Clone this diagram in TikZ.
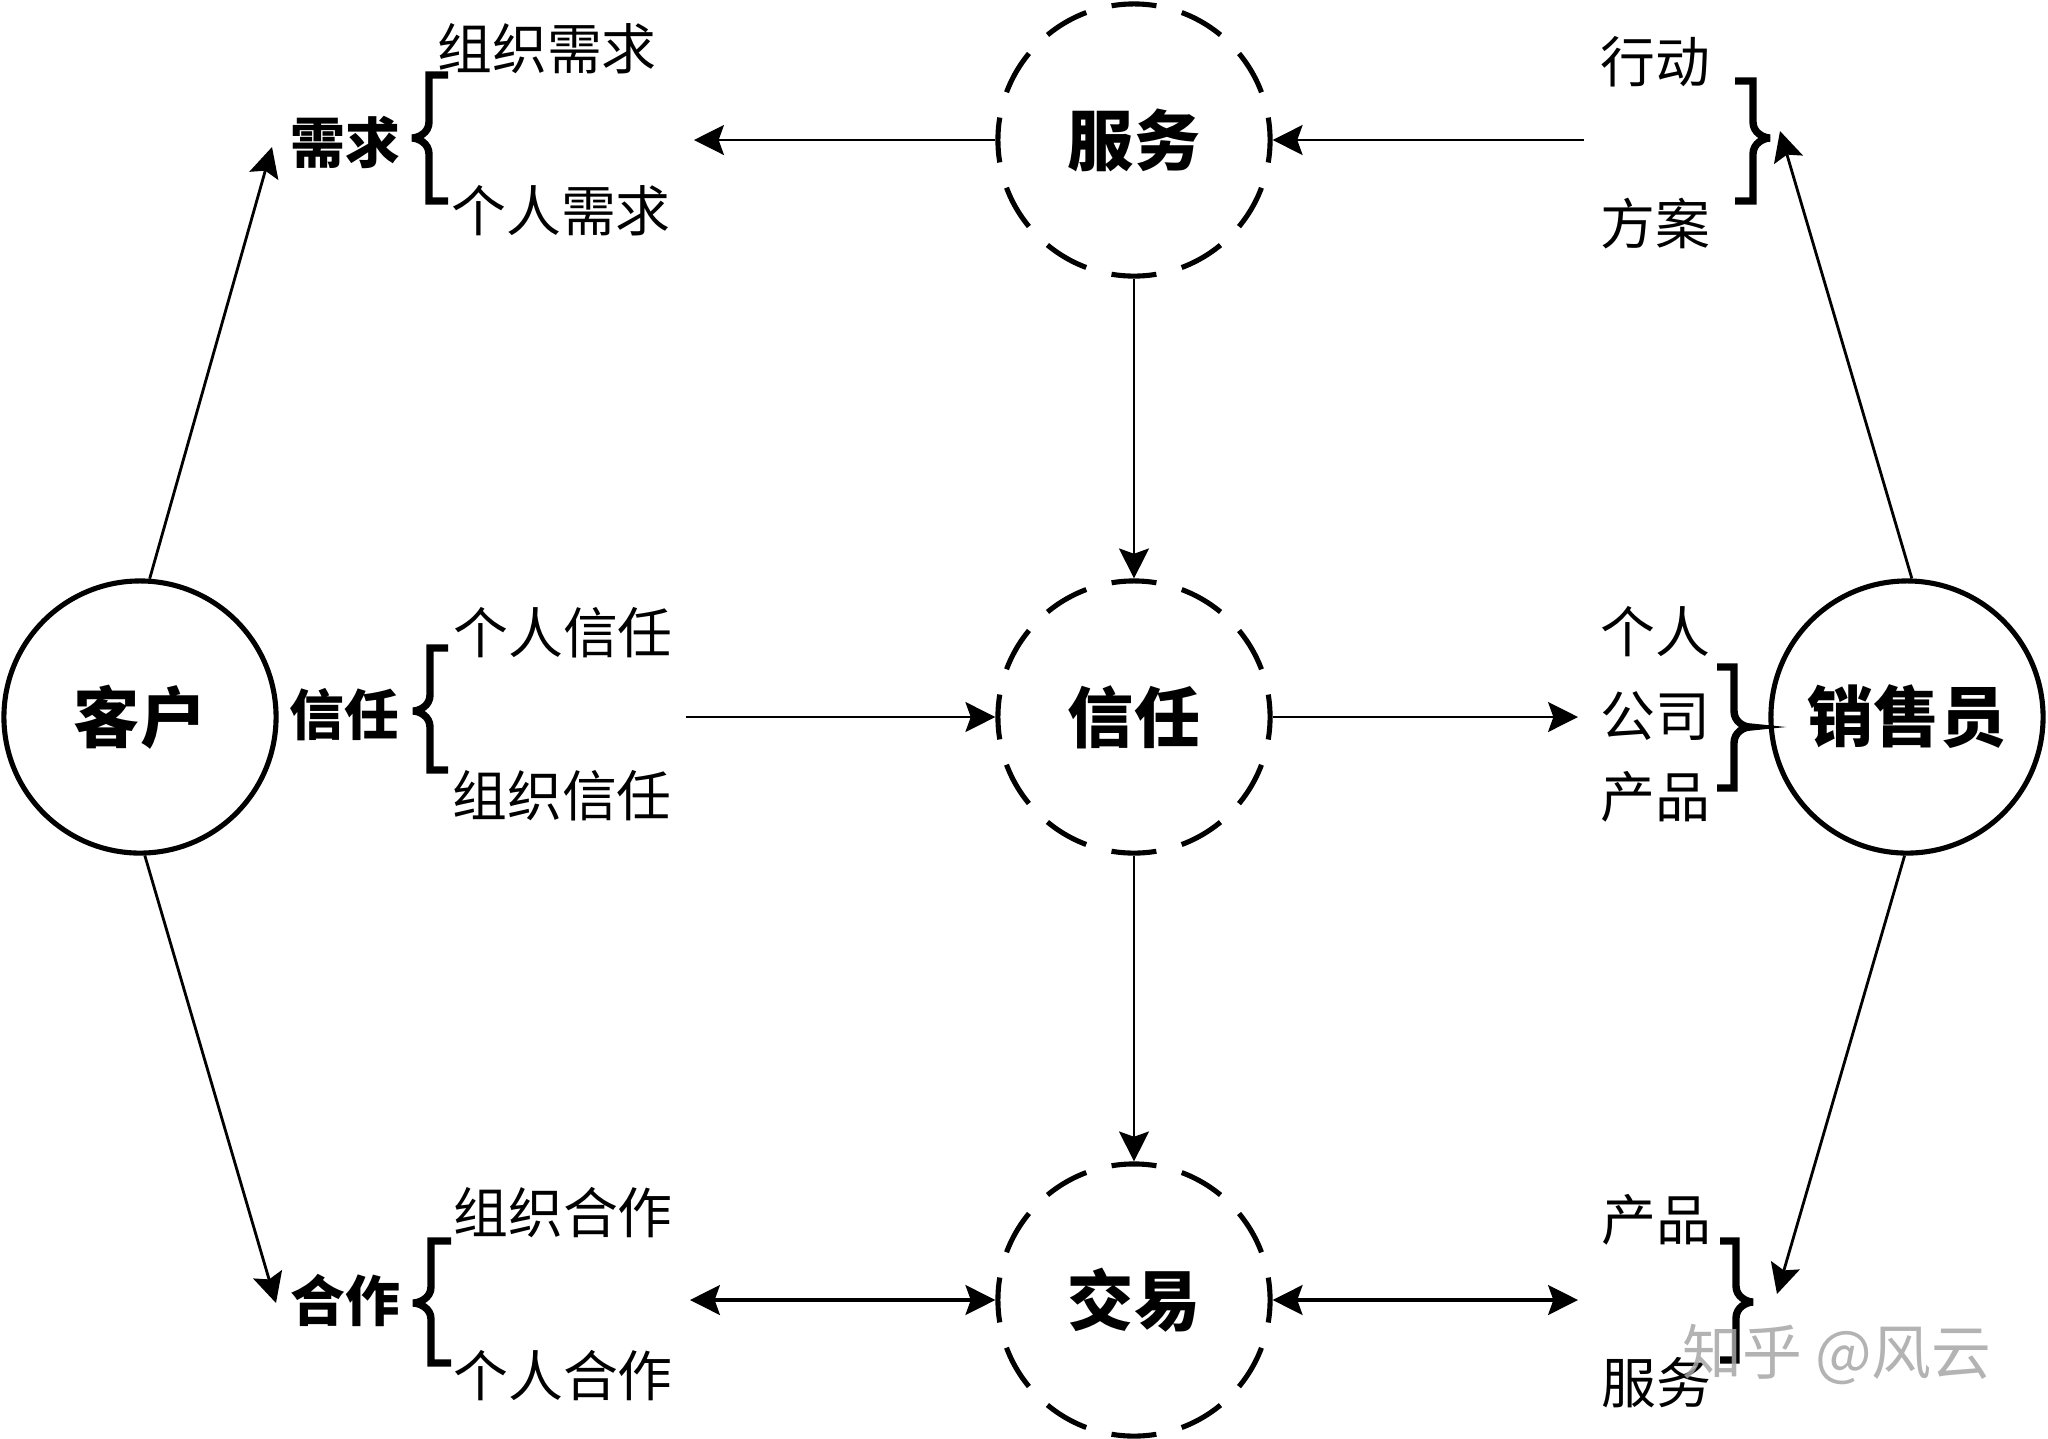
\documentclass[tikz,border=0pt]{standalone}
\usepackage{fontspec}
\setmainfont{Noto Sans CJK SC}
\usetikzlibrary{arrows.meta}
\newcommand{\mybrace}[6]{%
  \draw[bracestyle] (#1,#4) -- (#2,#4) -- (#2,{#5-16})
    .. controls (#2,{#5-5}) and ({#3+(#2-#3)*0.35},#5) .. (#3,#5)
    .. controls ({#3+(#2-#3)*0.35},#5) and (#2,{#5+5}) .. (#2,{#5+16})
    -- (#2,#6) -- (#1,#6);}
\begin{document}
\begin{tikzpicture}[x=0.01cm,y=-0.01cm,
  big/.style={circle,minimum size=2.72cm,inner sep=0pt,line width=1.45pt,
    font=\fontsize{18.8}{20}\selectfont\bfseries},
  solidc/.style={big,draw},
  dashc/.style={big,draw,dash pattern=on 0.45cm off 0.2621cm,dash phase=0.225cm},
  lab/.style={inner sep=0pt,font=\fontsize{15.6}{17}\selectfont},
  blab/.style={inner sep=0pt,font=\fontsize{15.6}{17}\selectfont\bfseries},
  arr/.style={line width=0.8pt,-{Stealth[length=8.5pt,width=8.5pt,inset=1.5pt]}},
  darr/.style={line width=0.9pt,{Stealth[length=8.5pt,width=8.5pt,inset=1.5pt]}-{Stealth[length=8.5pt,width=8.5pt,inset=1.5pt]}},
  bracestyle/.style={line width=2.1pt,line join=miter}]
\useasboundingbox (0,0) rectangle (2048,1438);

% main circles
\node[solidc] (K) at (140,717) {客户};
\node[solidc] (S) at (1907,717) {销售员};
\node[dashc] (F) at (1134,140) {服务};
\node[dashc] (X) at (1134,717) {信任};
\node[dashc] (J) at (1134,1300) {交易};

% left labels
\node[blab] (xq) at (345,142) {需求};
\node[lab] (zzxq) at (547,49) {组织需求};
\node[lab] (grxq) at (561,211) {个人需求};
\node[blab] (xr) at (344,715) {信任};
\node[lab] (grxr) at (563,633) {个人信任};
\node[lab] (zzxr) at (562,796) {组织信任};
\node[blab] (hz) at (345,1300) {合作};
\node[lab] (zzhz) at (563,1213) {组织合作};
\node[lab] (grhz) at (563,1376) {个人合作};

% right labels
\node[lab] (xd) at (1655,62) {行动};
\node[lab] (fa) at (1655,224) {方案};
\node[lab] (gr) at (1655,632) {个人};
\node[lab] (gs) at (1655,716) {公司};
\node[lab] (cp) at (1655,797) {产品};
\node[lab] (cp2) at (1656,1220) {产品};
\node[lab] (fw) at (1656,1383) {服务};

% braces
\mybrace{448}{429}{412}{75}{138}{201}
\mybrace{448}{430}{413}{648}{711}{770}
\mybrace{451}{431}{413}{1241}{1303}{1363}
\mybrace{1735}{1753}{1770}{81}{138}{201}
\mybrace{1717}{1734}{1750}{667}{727}{788}
\mybrace{1720}{1736}{1753}{1241}{1302}{1360}

% free ends
\coordinate (a1) at (694,140);
\coordinate (a2) at (1584,140);
\coordinate (a3) at (686,717);
\coordinate (a4) at (1578,717);
\coordinate (a5) at (690,1300);
\coordinate (a6) at (1578,1300);
\coordinate (t1) at (272,147);
\coordinate (t2) at (276,1303);
\coordinate (t3) at (1780,131);
\coordinate (t4) at (1777,1294);

% connectors
\draw[arr] (F.west) -- (a1);
\draw[arr] (a2) -- (F.east);
\draw[arr] (F.south) -- (X.north);
\draw[arr] (a3) -- (X.west);
\draw[arr] (X.east) -- (a4);
\draw[arr] (X.south) -- (J.north);
\draw[darr] (a5) -- (J.west);
\draw[darr] (J.east) -- (a6);
\draw[arr] (K.86) -- (t1);
\draw[arr] (K.-88) -- (t2);
\draw[arr] (S.88) -- (t3);
\draw[arr] (S.-91) -- (t4);

% watermark
\node[inner sep=0pt,text=black!35,opacity=0.85,font=\fontsize{17}{18}\selectfont] (wm) at (1837,1355) {知乎 @风云};
\end{tikzpicture}
\end{document}
